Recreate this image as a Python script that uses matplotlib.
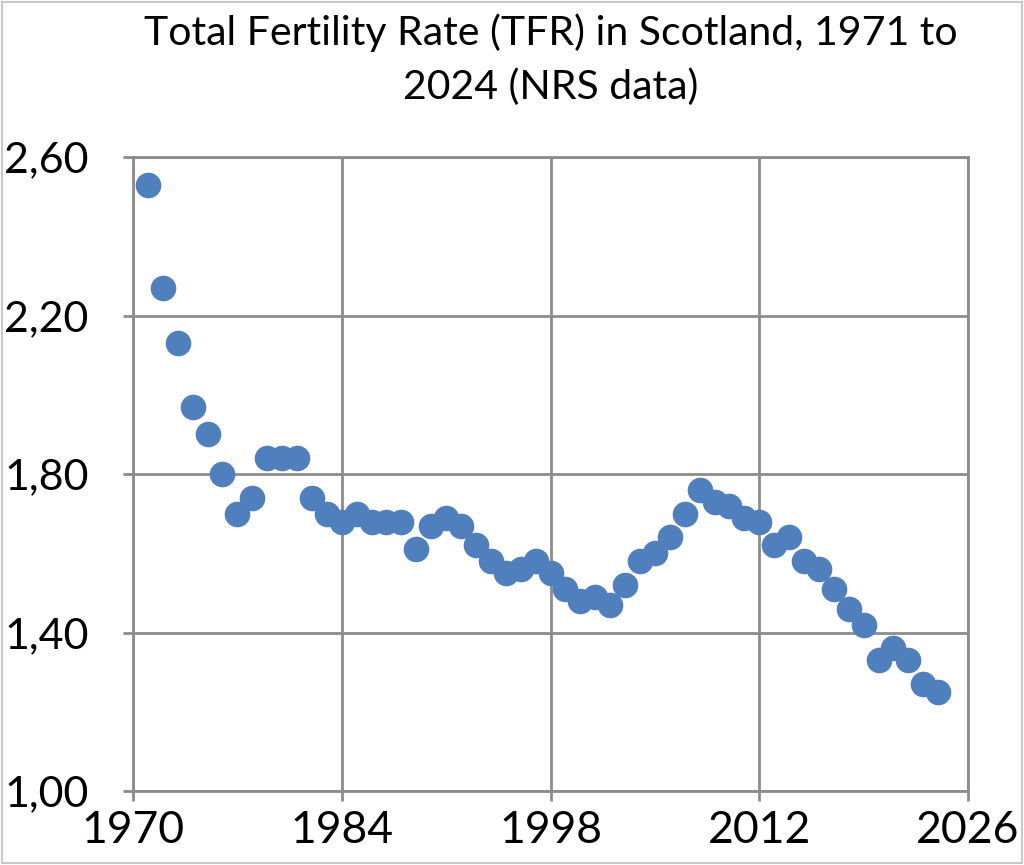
import matplotlib
matplotlib.use("Agg")
import matplotlib.pyplot as plt
from matplotlib.patches import Rectangle
from matplotlib.ticker import FuncFormatter

years = list(range(1971, 2025))
tfr = [2.53, 2.27, 2.13, 1.97, 1.90, 1.80, 1.70, 1.74, 1.84, 1.84,
       1.84, 1.74, 1.70, 1.68, 1.70, 1.68, 1.68, 1.68, 1.61, 1.67,
       1.69, 1.67, 1.62, 1.58, 1.55, 1.56, 1.58, 1.55, 1.51, 1.48,
       1.49, 1.47, 1.52, 1.58, 1.60, 1.64, 1.70, 1.76, 1.73, 1.72,
       1.69, 1.68, 1.62, 1.64, 1.58, 1.56, 1.51, 1.46, 1.42, 1.33,
       1.36, 1.33, 1.27, 1.25]
x_ticks = [1970, 1984, 1998, 2012, 2026]
y_ticks = [1.00, 1.40, 1.80, 2.20, 2.60]
title = "Total Fertility Rate (TFR) in Scotland, 1971 to\n2024 (NRS data)"

plt.rcParams["font.family"] = ["Lato", "DejaVu Sans"]

W, H = 1024, 865
fig = plt.figure(figsize=(W / 100, H / 100), dpi=100)
ax = fig.add_axes([133 / W, 1 - 791 / H, (968 - 133) / W, (791 - 157) / H])

ax.scatter(years, tfr, s=340, color="#4f7fbd", linewidths=0, zorder=3)

grid_col = "#8c8c8c"
ax.set_xlim(1970, 2026)
ax.set_ylim(1.0, 2.6)
ax.set_xticks(x_ticks)
ax.set_yticks(y_ticks)
ax.yaxis.set_major_formatter(FuncFormatter(lambda v, _: f"{v:.2f}".replace(".", ",")))
ax.grid(True, color=grid_col, linewidth=2)
ax.set_axisbelow(True)
for side in ax.spines.values():
    side.set_color(grid_col)
    side.set_linewidth(2)
ax.tick_params(axis="both", colors=grid_col, width=2, length=7,
               labelcolor="black")
ax.tick_params(axis="x", pad=7, labelsize=32)
ax.tick_params(axis="y", pad=25, labelsize=31)

fig.text(0.538, 0.985, title, ha="center", va="top", fontsize=29.5,
         linespacing=1.55)

fig.patches.append(Rectangle((0.002, 0.002), 0.996, 0.996, transform=fig.transFigure,
                             fill=False, edgecolor="#c8c8c8", linewidth=1.5))

fig.savefig("out.png", dpi=100, facecolor="white")
